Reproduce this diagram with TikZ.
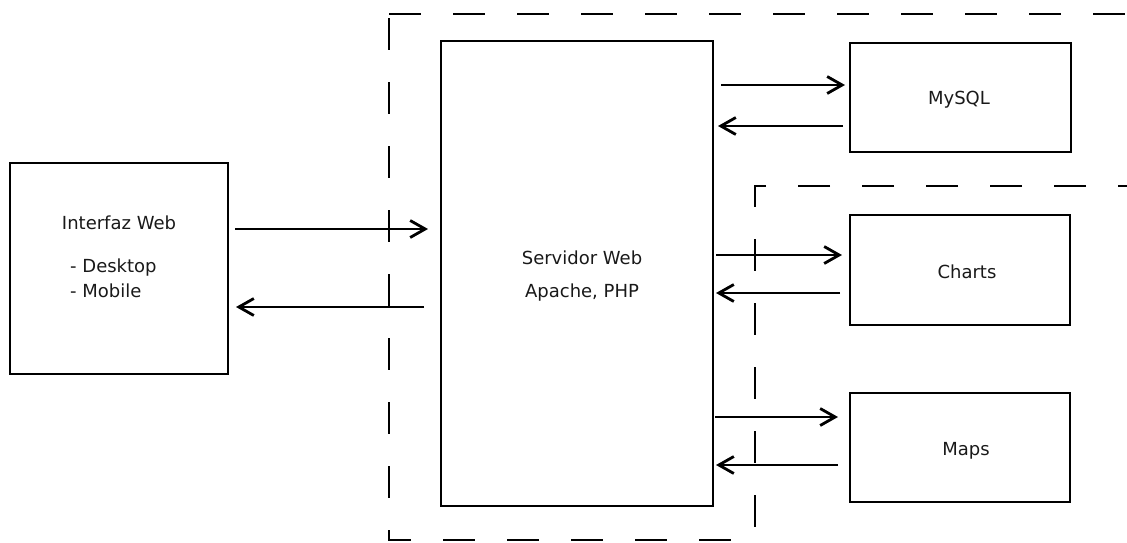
\documentclass[tikz,border=0pt]{standalone}
\usepackage{fontspec}
\setmainfont{DejaVu Sans}
\usetikzlibrary{arrows.meta,calc}
\begin{document}
\begin{tikzpicture}[x=1pt,y=-1pt,
  box/.style={draw,line width=2.8pt,inner sep=0pt,outer sep=0pt},
  lbl/.style={inner sep=0pt,anchor=base,font=\fontsize{18}{21}\selectfont,text=black!90},
  arr/.style={line width=2.8pt,-{Straight Barb[length=15pt,width=17pt]}},
  dsh/.style={line width=2.6pt,dash pattern=on 32pt off 32pt}]
\useasboundingbox (0,0) rectangle (1127,542);
% boxes
\node[box,minimum width=218pt,minimum height=211pt] (iw) at (119,268.5) {};
\node[box,minimum width=272pt,minimum height=465pt] (sw) at (577,273.5) {};
\node[box,minimum width=221pt,minimum height=109pt] (my) at (960.5,97.5) {};
\node[box,minimum width=220pt,minimum height=110pt] (ch) at (960,270) {};
\node[box,minimum width=220pt,minimum height=109pt] (mp) at (960,447.5) {};
% labels
\node[lbl] (t1) at (119,229) {Interfaz Web};
\node[lbl,anchor=base west] (t2) at (70,272) {- Desktop};
\node[lbl,anchor=base west] (t3) at (70,297) {- Mobile};
\node[lbl] (t4) at (582,264) {Servidor Web};
\node[lbl] (t5) at (582,297) {Apache, PHP};
\node[lbl] (t6) at (959,104) {MySQL};
\node[lbl] (t7) at (967,278) {Charts};
\node[lbl] (t8) at (966,455) {Maps};
% dashed regions
\draw[dsh] (389,14) -- (1140,14);
\draw[dsh,dash phase=60pt] (389,14) -- (389,540) -- (735,540);
\draw[dsh,dash phase=10pt] (1140,186) -- (755,186) -- (755,530);
% arrows
\draw[arr] ($(iw.east|-0,229)+(7,0)$) -- ($(sw.west|-0,229)+(-13,0)$);
\draw[arr] ($(sw.west|-0,307)+(-17,0)$) -- ($(iw.east|-0,307)+(8,0)$);
\draw[arr] ($(sw.east|-0,85)+(8,0)$) -- ($(my.west|-0,85)+(-5,0)$);
\draw[arr] ($(my.west|-0,126)+(-7,0)$) -- ($(sw.east|-0,126)+(5,0)$);
\draw[arr] ($(sw.east|-0,255)+(3,0)$) -- ($(ch.west|-0,255)+(-8,0)$);
\draw[arr] ($(ch.west|-0,293)+(-10,0)$) -- ($(sw.east|-0,293)+(3,0)$);
\draw[arr] ($(sw.east|-0,417)+(2,0)$) -- ($(mp.west|-0,417)+(-12,0)$);
\draw[arr] ($(mp.west|-0,465)+(-12,0)$) -- ($(sw.east|-0,465)+(3,0)$);
\end{tikzpicture}
\end{document}
